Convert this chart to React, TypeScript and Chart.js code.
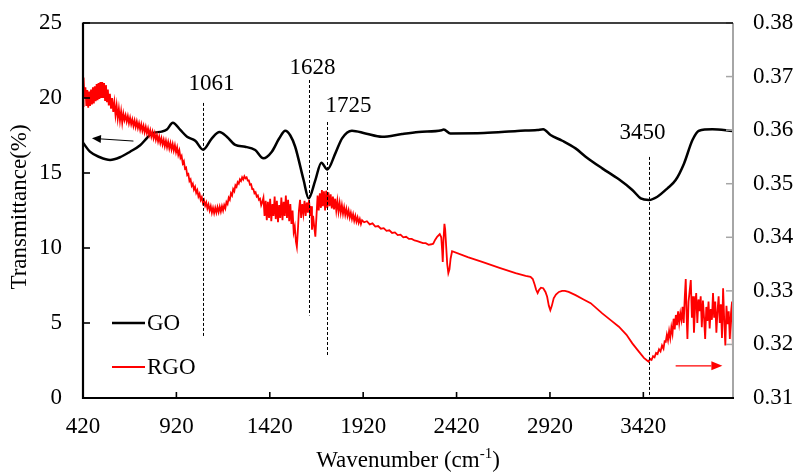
import React, { useEffect, useRef } from "react";
import { Chart, registerables } from "chart.js";

Chart.register(...registerables);

const xTicks = [420, 920, 1420, 1920, 2420, 2920, 3420];
const leftTicks = [0, 5, 10, 15, 20, 25];
const rightTicks = [0.31, 0.32, 0.33, 0.34, 0.35, 0.36, 0.37, 0.38];
const peakLabels = [1061, 1628, 1725, 3450];
const seriesNames = ["GO", "RGO"];

const goPoints: [number, number][] = [
  [420, 17.02], [457, 16.42], [511, 16.05], [565, 15.87], [618, 16.05], [672, 16.42], [726, 16.85],
  [760, 17.3], [788, 17.64], [842, 17.76], [869, 17.9], [901, 18.35], [941, 17.87], [977, 17.42],
  [1021, 17.15], [1063, 16.55], [1110, 17.31], [1151, 17.73], [1190, 17.42], [1235, 16.87],
  [1288, 16.75], [1342, 16.53], [1386, 15.98], [1431, 16.42], [1470, 17.3], [1503, 17.82],
  [1530, 17.5], [1556, 16.75], [1601, 14.53], [1628, 13.31], [1664, 14.53], [1696, 15.69],
  [1728, 15.24], [1771, 16.31], [1807, 17.31], [1860, 17.82], [1932, 17.64], [2021, 17.42],
  [2128, 17.6], [2217, 17.73], [2340, 17.85], [2351, 17.9], [2387, 17.64], [2566, 17.66],
  [2745, 17.8], [2852, 17.87], [2884, 17.91], [2923, 17.53], [2986, 17.15], [3057, 16.64],
  [3111, 16.09], [3200, 15.31], [3289, 14.58], [3361, 13.87], [3406, 13.31], [3450, 13.2],
  [3495, 13.42], [3549, 13.98], [3593, 14.53], [3638, 15.64], [3683, 17.2], [3718, 17.82],
  [3790, 17.91], [3897, 17.8],
];

const rgoPoints: [number, number][] = [
  [420, 0.3645], [423, 0.3698], [428, 0.366], [433, 0.368], [438, 0.3645], [443, 0.3675], [448, 0.3642],
  [453, 0.3672], [458, 0.3645], [463, 0.3676], [468, 0.3648], [473, 0.368], [478, 0.365], [483, 0.3682],
  [488, 0.3654], [493, 0.3686], [498, 0.3656], [503, 0.3688], [508, 0.3658], [513, 0.369], [518, 0.366],
  [523, 0.369], [528, 0.366], [533, 0.3688], [538, 0.3656], [543, 0.3684], [548, 0.3652], [553, 0.3676],
  [558, 0.3646], [564, 0.3668], [570, 0.364], [576, 0.366], [582, 0.3634], [588, 0.3652], [594, 0.3628],
  [600, 0.3646], [606, 0.3622], [612, 0.364], [618, 0.3618], [624, 0.3635], [630, 0.3614],
  [636, 0.3631], [642, 0.3619], [648, 0.3628], [654, 0.3616], [660, 0.3626], [666, 0.3613], [672, 0.3623],
  [678, 0.3611], [684, 0.362], [690, 0.3608], [696, 0.3618], [702, 0.3606], [708, 0.3616], [714, 0.3604],
  [720, 0.3613], [726, 0.3601], [732, 0.3611], [738, 0.3599], [744, 0.3608], [750, 0.3596], [756, 0.3606],
  [762, 0.3594], [768, 0.3603], [774, 0.3591], [780, 0.36], [786, 0.3588], [792, 0.3597], [798, 0.3585],
  [804, 0.3594], [810, 0.3582], [816, 0.3591], [822, 0.3579], [828, 0.3588], [834, 0.3576], [840, 0.3585],
  [846, 0.3573], [852, 0.3582], [858, 0.357], [864, 0.358], [870, 0.3568], [876, 0.3578], [882, 0.3566],
  [888, 0.3576], [894, 0.3564], [900, 0.3574], [906, 0.3562], [912, 0.3572], [918, 0.3559], [924, 0.3568],
  [930, 0.3554], [936, 0.3562], [942, 0.3548], [948, 0.3552], [954, 0.3538], [960, 0.3542], [966, 0.3528],
  [972, 0.353], [978, 0.3516], [984, 0.3518], [990, 0.3505], [996, 0.3508], [1002, 0.3496], [1008, 0.35],
  [1014, 0.3489], [1020, 0.3494], [1026, 0.3483], [1032, 0.3488], [1038, 0.3476], [1044, 0.3481],
  [1050, 0.347], [1056, 0.3475], [1062, 0.3464], [1068, 0.3469], [1074, 0.3459], [1080, 0.3465],
  [1086, 0.3454], [1092, 0.3461], [1098, 0.345], [1104, 0.3458], [1110, 0.3446], [1116, 0.3455],
  [1122, 0.3445], [1128, 0.3455], [1134, 0.3446], [1140, 0.3456], [1146, 0.3447], [1152, 0.3457],
  [1158, 0.3448], [1164, 0.3458], [1170, 0.345], [1176, 0.346], [1182, 0.3454], [1188, 0.3466],
  [1194, 0.3462], [1200, 0.3474], [1206, 0.347], [1212, 0.3482], [1218, 0.3478], [1224, 0.349],
  [1230, 0.3486], [1236, 0.3497], [1242, 0.3494], [1248, 0.3503], [1254, 0.35], [1260, 0.3508],
  [1266, 0.3505], [1272, 0.3512], [1278, 0.3508], [1284, 0.3514], [1290, 0.351], [1296, 0.3512],
  [1302, 0.3506], [1308, 0.3506], [1314, 0.3498], [1320, 0.3499], [1326, 0.349], [1332, 0.349],
  [1338, 0.3482], [1344, 0.3484], [1350, 0.3476], [1356, 0.3478], [1362, 0.347], [1368, 0.3472],
  [1374, 0.346],
  [1380, 0.3466], [1386, 0.3474], [1392, 0.344], [1398, 0.3468], [1404, 0.3432], [1410, 0.3466],
  [1416, 0.3436], [1422, 0.3472], [1428, 0.343], [1434, 0.3462], [1440, 0.344], [1446, 0.3476],
  [1452, 0.3434], [1458, 0.3468], [1464, 0.3428], [1470, 0.346], [1476, 0.3436], [1482, 0.3474],
  [1488, 0.3432], [1494, 0.3466], [1500, 0.344], [1506, 0.3478], [1512, 0.3436], [1518, 0.347],
  [1524, 0.343], [1530, 0.3462], [1536, 0.3425], [1542, 0.345], [1548, 0.341], [1554, 0.342],
  [1560, 0.3392], [1565, 0.3382], [1570, 0.341], [1576, 0.345], [1582, 0.347], [1588, 0.3436],
  [1594, 0.3462], [1600, 0.3444], [1606, 0.3468], [1612, 0.344], [1618, 0.3465], [1624, 0.3446],
  [1630, 0.347], [1636, 0.344], [1642, 0.3458], [1646, 0.3414], [1652, 0.344], [1658, 0.342],
  [1664, 0.3401], [1670, 0.344], [1676, 0.3478], [1682, 0.345], [1688, 0.3482], [1694, 0.3455],
  [1699, 0.3488], [1704, 0.3458], [1710, 0.3486], [1716, 0.345], [1722, 0.3487], [1728, 0.3455],
  [1734, 0.3484], [1740, 0.3458], [1746, 0.348], [1752, 0.3454], [1758, 0.3476], [1764, 0.3452],
  [1770, 0.3472], [1776, 0.345], [1782, 0.3468], [1788, 0.3448], [1794, 0.3464], [1800, 0.3446],
  [1806, 0.346], [1812, 0.3444], [1818, 0.3456], [1824, 0.3442], [1830, 0.3453], [1836, 0.344],
  [1842, 0.345], [1848, 0.3437], [1854, 0.3446], [1860, 0.3434], [1866, 0.3443], [1872, 0.3431],
  [1878, 0.344], [1884, 0.3429], [1890, 0.3437], [1896, 0.3427], [1902, 0.3434], [1908, 0.3425],
  [1914, 0.3432],
  [1925, 0.3428], [1940, 0.343], [1955, 0.3424], [1970, 0.3426], [1985, 0.342], [2000, 0.3421],
  [2015, 0.3416], [2030, 0.3417], [2045, 0.3412], [2060, 0.3413], [2075, 0.3408], [2090, 0.3409],
  [2105, 0.3404], [2120, 0.3405], [2135, 0.34], [2150, 0.3401], [2165, 0.3397], [2180, 0.3397],
  [2195, 0.3394], [2210, 0.3393], [2225, 0.3391], [2240, 0.3389], [2255, 0.3389], [2270, 0.3386],
  [2285, 0.3387], [2295, 0.3388], [2305, 0.3395], [2316, 0.3401], [2330, 0.3406], [2338, 0.34],
  [2343, 0.3375], [2346, 0.3354], [2350, 0.3395], [2355, 0.3425], [2359, 0.3415], [2364, 0.3385],
  [2370, 0.335], [2376, 0.3333], [2382, 0.334], [2388, 0.336], [2396, 0.3374],
  [2480, 0.3363], [2557, 0.3354], [2650, 0.3343], [2736, 0.3333], [2790, 0.3328], [2816, 0.3326],
  [2828, 0.3322], [2838, 0.3312], [2846, 0.3302], [2854, 0.3296], [2862, 0.3302], [2872, 0.3306],
  [2884, 0.3305], [2896, 0.3298], [2905, 0.3289], [2914, 0.3272], [2922, 0.3264], [2930, 0.3272],
  [2940, 0.3286], [2952, 0.3293], [2968, 0.3298], [2985, 0.33], [3000, 0.33], [3020, 0.3298],
  [3057, 0.3292], [3100, 0.3284], [3138, 0.3277], [3200, 0.3258], [3250, 0.3244], [3289, 0.3233],
  [3330, 0.3218], [3361, 0.3202], [3395, 0.3187], [3423, 0.3175], [3440, 0.317], [3448, 0.3168],
  [3456, 0.3173], [3464, 0.3171], [3472, 0.3178], [3480, 0.3176], [3488, 0.3184], [3496, 0.3182],
  [3504, 0.3191], [3512, 0.3187], [3520, 0.3198], [3528, 0.3192], [3534, 0.3206],
  [3540, 0.3205], [3546, 0.3218], [3552, 0.3208], [3558, 0.3225], [3564, 0.3212], [3570, 0.3232],
  [3576, 0.322], [3582, 0.3248], [3588, 0.3228], [3594, 0.3255], [3600, 0.3236], [3606, 0.3262],
  [3612, 0.324], [3618, 0.3258], [3624, 0.3246], [3630, 0.327], [3636, 0.324], [3642, 0.329],
  [3647, 0.3322], [3652, 0.325], [3656, 0.321], [3662, 0.328], [3668, 0.33], [3674, 0.332],
  [3680, 0.325], [3686, 0.329], [3691, 0.3222], [3697, 0.327], [3703, 0.3296], [3709, 0.324],
  [3715, 0.3284], [3721, 0.3262], [3727, 0.329], [3733, 0.3232], [3739, 0.3282], [3745, 0.325],
  [3751, 0.321], [3757, 0.327], [3763, 0.3244], [3769, 0.328], [3775, 0.323], [3781, 0.3266],
  [3787, 0.3246], [3793, 0.3296], [3799, 0.325], [3805, 0.328], [3811, 0.3222], [3817, 0.3262],
  [3823, 0.329], [3829, 0.324], [3835, 0.3275], [3841, 0.3212], [3847, 0.3305], [3853, 0.3245],
  [3859, 0.3198], [3865, 0.3272], [3871, 0.3238], [3877, 0.3262], [3883, 0.321], [3889, 0.3258],
  [3895, 0.328], [3900, 0.3183],
];

const FONT = "'Liberation Serif', 'Times New Roman', serif";
const FS = 23;

// annotation geometry (left-axis values for vertical extents, pixel offsets for labels)
const peakStyle: Record<number, { top: number; bottom: number; labelY: number; dx: number }> = {
  1061: { top: 19.67, bottom: 4.1, labelY: 20.93, dx: 8 },
  1628: { top: 21.2, bottom: 5.5, labelY: 22.0, dx: 3 },
  1725: { top: 18.4, bottom: 2.75, labelY: 19.47, dx: 21 },
  3450: { top: 16.07, bottom: 0, labelY: 17.67, dx: -7 },
};

const decorPlugin = {
  id: "decor",
  afterDatasetsDraw(chart: any) {
    const { ctx, chartArea: a, scales } = chart;
    const x = scales.x, y = scales.y, y1 = scales.y1;
    const line = (x1: number, yy1: number, x2: number, yy2: number) => {
      ctx.beginPath();
      ctx.moveTo(x1, yy1);
      ctx.lineTo(x2, yy2);
      ctx.stroke();
    };
    ctx.save();

    // dashed peak markers
    ctx.strokeStyle = "#000";
    ctx.lineWidth = 1;
    ctx.setLineDash([3, 2]);
    ctx.fillStyle = "#000";
    ctx.font = `${FS}px ${FONT}`;
    ctx.textAlign = "center";
    ctx.textBaseline = "middle";
    for (const p of peakLabels) {
      const s = peakStyle[p];
      const px = Math.round(x.getPixelForValue(p)) + 0.5;
      line(px, y.getPixelForValue(s.top), px, y.getPixelForValue(s.bottom));
      ctx.fillText(String(p), px + s.dx, y.getPixelForValue(s.labelY));
    }
    ctx.setLineDash([]);

    // arrows
    const arrow = (x1: number, yy1: number, x2: number, yy2: number, color: string, w: number, hl: number, hw: number) => {
      ctx.strokeStyle = color;
      ctx.fillStyle = color;
      ctx.lineWidth = w;
      const ang = Math.atan2(yy2 - yy1, x2 - x1);
      const bx = x2 - hl * Math.cos(ang), by = yy2 - hl * Math.sin(ang);
      line(x1, yy1, bx, by);
      ctx.beginPath();
      ctx.moveTo(x2, yy2);
      ctx.lineTo(bx + hw * Math.sin(ang), by - hw * Math.cos(ang));
      ctx.lineTo(bx - hw * Math.sin(ang), by + hw * Math.cos(ang));
      ctx.closePath();
      ctx.fill();
    };
    arrow(x.getPixelForValue(690), y.getPixelForValue(17.13), x.getPixelForValue(468), y.getPixelForValue(17.31), "#000", 1, 9, 4);
    arrow(x.getPixelForValue(3593), y1.getPixelForValue(0.316), x.getPixelForValue(3843), y1.getPixelForValue(0.316), "#ff0000", 1.3, 11, 4.5);

    // frame: right axis (gray)
    ctx.strokeStyle = "#a6a6a6";
    ctx.lineWidth = 2;
    line(a.right, a.top, a.right, a.bottom);
    ctx.lineWidth = 1.5;
    for (const t of rightTicks) {
      const yy = y1.getPixelForValue(t);
      line(a.right - 7, yy, a.right, yy);
    }
    // black frame
    ctx.strokeStyle = "#000";
    ctx.lineWidth = 1.5;
    line(a.left, a.top, a.right, a.top);
    ctx.lineWidth = 2.2;
    line(a.left, a.top - 0.5, a.left, a.bottom + 1);
    line(a.left - 1, a.bottom, a.right + 1, a.bottom);
    ctx.lineWidth = 1.6;
    for (const t of leftTicks) {
      const yy = y.getPixelForValue(t);
      line(a.left, yy, a.left + 7, yy);
    }
    for (const t of xTicks) {
      const xx = x.getPixelForValue(t);
      line(xx, a.bottom, xx, a.bottom - 6);
    }

    // legend
    ctx.font = `${FS}px ${FONT}`;
    ctx.textAlign = "left";
    ctx.textBaseline = "middle";
    const legendColors = ["#000", "#ff0000"];
    const legendY = [323, 367];
    seriesNames.forEach((n, i) => {
      ctx.strokeStyle = legendColors[i];
      ctx.lineWidth = i === 0 ? 2.5 : 2;
      line(a.left + 29, legendY[i], a.left + 62, legendY[i]);
      ctx.fillStyle = "#000";
      ctx.fillText(n, a.left + 64, legendY[i] + 1);
    });

    // axis titles
    ctx.fillStyle = "#000";
    ctx.save();
    ctx.translate(20, 207);
    ctx.rotate(-Math.PI / 2);
    ctx.textAlign = "center";
    ctx.textBaseline = "middle";
    ctx.fillText("Transmittance(%)", 0, 0);
    ctx.restore();

    const main = "Wavenumber (cm";
    const sup = "-1";
    const close = ")";
    ctx.font = `${FS}px ${FONT}`;
    const w1 = ctx.measureText(main).width;
    const w3 = ctx.measureText(close).width;
    ctx.font = `15px ${FONT}`;
    const w2 = ctx.measureText(sup).width;
    const total = w1 + w2 + w3;
    const cx = (a.left + a.right) / 2;
    let sx = cx - total / 2;
    const base = 467;
    ctx.textAlign = "left";
    ctx.textBaseline = "alphabetic";
    ctx.font = `${FS}px ${FONT}`;
    ctx.fillText(main, sx, base);
    sx += w1;
    ctx.font = `15px ${FONT}`;
    ctx.fillText(sup, sx, base - 9);
    sx += w2;
    ctx.font = `${FS}px ${FONT}`;
    ctx.fillText(close, sx, base);

    ctx.restore();
  },
};

const zeroPad = (s: any) => {
  s.paddingTop = 0;
  s.paddingBottom = 0;
  s.paddingLeft = 0;
  s.paddingRight = 0;
};

export default function App() {
  const ref = useRef<HTMLCanvasElement | null>(null);
  useEffect(() => {
    if (!ref.current) return;
    const tickFont = { family: FONT, size: FS };
    const chart = new Chart(ref.current, {
      type: "line",
      data: {
        datasets: [
          {
            label: seriesNames[0],
            data: goPoints.map(([px, py]) => ({ x: px, y: py })),
            borderColor: "#000",
            borderWidth: 2.5,
            pointRadius: 0,
            cubicInterpolationMode: "monotone",
            yAxisID: "y",
            order: 1,
          },
          {
            label: seriesNames[1],
            data: rgoPoints.map(([px, py]) => ({ x: px, y: py })),
            borderColor: "#ff0000",
            borderWidth: 1.8,
            pointRadius: 0,
            tension: 0,
            yAxisID: "y1",
            order: 0,
          },
        ],
      },
      options: {
        responsive: false,
        animation: false,
        devicePixelRatio: 1,
        layout: { padding: { top: 23, left: 0, right: 0, bottom: 0 } },
        plugins: { legend: { display: false }, tooltip: { enabled: false }, title: { display: false } },
        scales: {
          x: {
            type: "linear",
            min: 420,
            max: 3900,
            grid: { display: false, drawTicks: false },
            border: { display: false },
            afterBuildTicks: (s: any) => {
              s.ticks = xTicks.map((v) => ({ value: v }));
            },
            afterFit: (s: any) => {
              s.height = 76;
              zeroPad(s);
            },
            ticks: {
              autoSkip: false,
              maxRotation: 0,
              padding: 15,
              color: "#000",
              font: tickFont,
              callback: (v: any) => String(v),
            },
          },
          y: {
            type: "linear",
            position: "left",
            min: 0,
            max: 25,
            grid: { display: false, drawTicks: false },
            border: { display: false },
            afterBuildTicks: (s: any) => {
              s.ticks = leftTicks.map((v) => ({ value: v }));
            },
            afterFit: (s: any) => {
              s.width = 83;
              zeroPad(s);
            },
            ticks: { padding: 21, color: "#000", font: tickFont, callback: (v: any) => String(v) },
          },
          y1: {
            type: "linear",
            position: "right",
            min: 0.31,
            max: 0.38,
            grid: { display: false, drawTicks: false },
            border: { display: false },
            afterBuildTicks: (s: any) => {
              s.ticks = rightTicks.map((v) => ({ value: v }));
            },
            afterFit: (s: any) => {
              s.width = 66;
              zeroPad(s);
            },
            ticks: { padding: 20, color: "#000", font: tickFont, callback: (v: any) => Number(v).toFixed(2) },
          },
        },
      },
      plugins: [decorPlugin],
    } as any);
    return () => chart.destroy();
  }, []);
  return (
    <div style={{ position: "fixed", left: 0, top: 0, width: 799, height: 474, background: "#fff" }}>
      <canvas ref={ref} width={799} height={474} style={{ display: "block" }} />
    </div>
  );
}
